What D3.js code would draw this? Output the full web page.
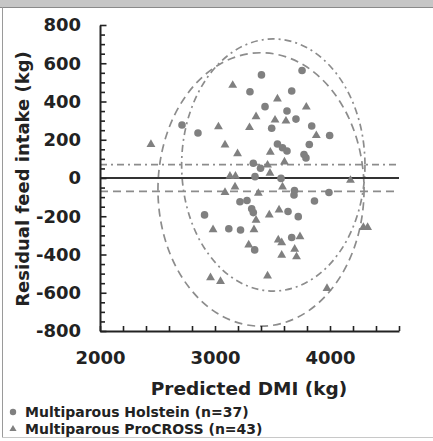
<!DOCTYPE html>
<html>
<head>
<meta charset="utf-8">
<script src="https://cdn.jsdelivr.net/npm/d3@7"></script>
<style>
  body { margin: 0; background: #fff; }
  svg { display: block; font-family: "DejaVu Sans", Verdana, sans-serif; font-weight: bold; }
</style>
</head>
<body>
<svg width="433" height="441"></svg>
<script>
// values (kg)
var holsteinDMI = [2713, 2852, 3404, 3757, 3304, 3667, 3435, 3626, 3704, 3493, 3841, 3997,
  3543, 3587, 3626, 3820, 3774, 3791, 3333, 3396, 3348, 3574, 3691, 3687, 3865, 3991,
  3217, 3278, 3319, 3333, 3635, 3724, 2909, 3120, 3222, 3345, 3667];
var holsteinRFI = [277, 235, 539, 562, 451, 455, 373, 350, 308, 260, 272, 222,
  178, 158, 141, 175, 123, 105, 77, 51, 7, -2, -65, -89, -120, -76,
  -124, -118, -161, -181, -175, -202, -193, -265, -272, -376, -311];

var procrossDMI = [2443, 3030, 3087, 3196, 3154, 3543, 3794, 3357, 3522, 3617, 3300, 3881,
  3481, 3604, 3457, 3478, 3130, 3178, 4178, 3174, 3087, 3377, 3587, 3472, 3557, 2983,
  3339, 3293, 3357, 3550, 3580, 3739, 3693, 3580, 3709, 3457, 2961, 3048, 3974, 4290, 4327];
var procrossRFI = [176, 268, 173, 127, 485, 414, 371, 321, 303, 298, 264, 222,
  135, 84, 68, 25, 10, 10, -12, -47, -75, -80, -47, -193, -167, -270,
  -270, -350, -220, -324, -338, -307, -372, -403, -412, -512, -521, -541, -577, -258, -258];

var xTicks = [2000, 3000, 4000];
var yTicks = [-800, -600, -400, -200, 0, 200, 400, 600, 800];

// reference lines and ellipses (dash-dot = ProCROSS, dashed = Holstein)
var lineLevels = [70, -70];
var ellipseCX = [3507, 3400];
var ellipseCY = [68, -60];
var ellipseRX = [797, 896];
var ellipseRY = [659, 715];
var lineDash = ["7,4,2,4", "8,5"];

var legendLabels = ["Multiparous Holstein (n=37)", "Multiparous ProCROSS (n=43)"];

var svg = d3.select("svg");
var ink = "#222",
  markColor = "#808080",
  refColor = "#8c8c8c";

// frame round the figure
svg.append("rect").attr("x", 0).attr("y", 0).attr("width", 433).attr("height", 7).attr("fill", "#c6c6c6");
svg.append("line").attr("x1", 0).attr("x2", 433).attr("y1", 7.5).attr("y2", 7.5).attr("stroke", "#8a8a8a");
svg.append("line").attr("x1", 2.5).attr("x2", 2.5).attr("y1", 7).attr("y2", 438).attr("stroke", "#9a9a9a");
svg.append("line").attr("x1", 2).attr("x2", 433).attr("y1", 437.5).attr("y2", 437.5).attr("stroke", "#c8c8c8");

var x = d3.scaleLinear().domain([2000, 4600]).range([100, 399]);
var y = d3.scaleLinear().domain([-800, 800]).range([331, 25]);

// ellipses
var plot = svg.append("g");
ellipseCX.forEach(function(cx, i) {
  plot.append("ellipse")
    .attr("cx", x(cx))
    .attr("cy", y(ellipseCY[i]))
    .attr("rx", x(cx + ellipseRX[i]) - x(cx))
    .attr("ry", y(0) - y(ellipseRY[i]))
    .attr("fill", "none")
    .attr("stroke", refColor)
    .attr("stroke-width", 1.7)
    .attr("stroke-dasharray", lineDash[i]);
});

// horizontal reference lines
lineLevels.forEach(function(v, i) {
  plot.append("line")
    .attr("x1", x(2000)).attr("x2", x(4600))
    .attr("y1", y(v)).attr("y2", y(v))
    .attr("stroke", refColor)
    .attr("stroke-width", 1.7)
    .attr("stroke-dasharray", lineDash[i]);
});

// zero line
plot.append("line")
  .attr("x1", x(2000)).attr("x2", x(4600))
  .attr("y1", y(0)).attr("y2", y(0))
  .attr("stroke", "#333")
  .attr("stroke-width", 2);

// points
var holstein = holsteinDMI.map(function(d, i) { return [d, holsteinRFI[i]]; });
var procross = procrossDMI.map(function(d, i) { return [d, procrossRFI[i]]; });

plot.selectAll(".hol").data(holstein).enter().append("circle")
  .attr("class", "hol")
  .attr("cx", function(d) { return x(d[0]); })
  .attr("cy", function(d) { return y(d[1]); })
  .attr("r", 3.8)
  .attr("fill", markColor);

var tri = d3.symbol().type(d3.symbolTriangle).size(34);
plot.selectAll(".pro").data(procross).enter().append("path")
  .attr("class", "pro")
  .attr("d", tri)
  .attr("transform", function(d) { return "translate(" + x(d[0]) + "," + y(d[1]) + ")"; })
  .attr("fill", markColor);

// axes
var yAxis = svg.append("g")
  .attr("transform", "translate(100,0)")
  .call(d3.axisLeft(y).tickValues(d3.range(-800, 801, 50)).tickSize(-5).tickSizeOuter(0)
    .tickPadding(19)
    .tickFormat(function(d) { return d % 200 === 0 ? d : ""; }));
yAxis.selectAll("line").filter(function(d) { return d % 200 === 0; }).attr("x2", 6.5);

var xAxis = svg.append("g")
  .attr("transform", "translate(0,331)")
  .call(d3.axisBottom(x).tickValues(d3.range(2000, 4601, 200)).tickSize(-5).tickSizeOuter(0)
    .tickPadding(20)
    .tickFormat(function(d) { return xTicks.indexOf(d) >= 0 ? d : ""; }));

[yAxis, xAxis].forEach(function(g) {
  g.attr("font-family", null).attr("font-size", null);
  g.select(".domain").attr("stroke", ink).attr("stroke-width", 2);
  g.selectAll("line").attr("stroke", ink).attr("stroke-width", 1.6);
  g.selectAll("text").attr("fill", ink).style("font-size", "18px");
});

// titles
svg.append("text")
  .attr("x", 249).attr("y", 395)
  .attr("text-anchor", "middle")
  .attr("fill", ink)
  .style("font-size", "18.5px")
  .text("Predicted DMI (kg)");

svg.append("text")
  .attr("transform", "translate(29,179) rotate(-90)")
  .attr("text-anchor", "middle")
  .attr("fill", ink)
  .style("font-size", "18px")
  .text("Residual feed intake (kg)");

// legend
var legend = svg.append("g");
legend.append("circle").attr("cx", 13).attr("cy", 412).attr("r", 3.2).attr("fill", markColor);
legend.append("path")
  .attr("d", d3.symbol().type(d3.symbolTriangle).size(22))
  .attr("transform", "translate(13,429)")
  .attr("fill", markColor);
legendLabels.forEach(function(t, i) {
  legend.append("text")
    .attr("x", 25).attr("y", 417 + i * 17)
    .attr("fill", ink)
    .style("font-size", "14px")
    .text(t);
});
</script>
</body>
</html>
